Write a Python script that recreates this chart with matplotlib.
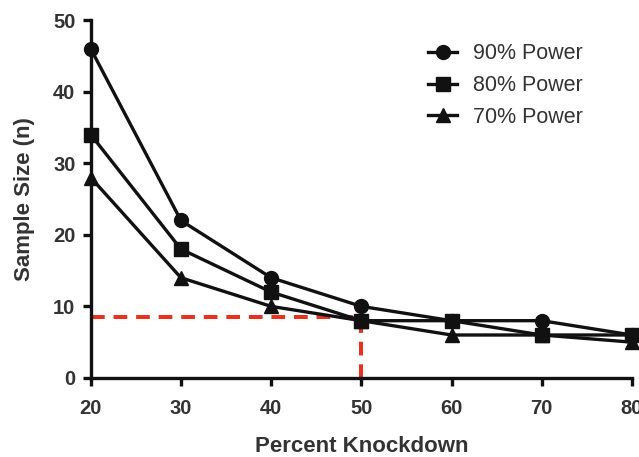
import matplotlib.pyplot as plt

knockdown = [20, 30, 40, 50, 60, 70, 80]
power_90 = [46, 22, 14, 10, 8, 8, 6]
power_80 = [34, 18, 12, 8, 8, 6, 6]
power_70 = [28, 14, 10, 8, 6, 6, 5]
cutoff_x = 50
cutoff_y = 8.5

plt.rcParams['font.family'] = ['Liberation Sans', 'DejaVu Sans']

fig = plt.figure(figsize=(6.39, 4.57), dpi=100)
ax = fig.add_axes([0.142, 0.173, 0.847, 0.783])

# red dashed guide lines
ax.plot([20, cutoff_x], [cutoff_y, cutoff_y], color='#e8311f', lw=2.9, ls=(0, (3.4, 2.2)), zorder=1)
ax.plot([cutoff_x, cutoff_x], [0, cutoff_y], color='#e8311f', lw=2.9, ls=(0, (3.4, 2.2)), zorder=1)

ax.plot(knockdown, power_90, color='#111111', lw=2.4, marker='o', ms=10, label='90% Power', clip_on=False, zorder=3)
ax.plot(knockdown, power_80, color='#111111', lw=2.4, marker='s', ms=10, label='80% Power', clip_on=False, zorder=3)
ax.plot(knockdown, power_70, color='#111111', lw=2.4, marker='^', ms=10, label='70% Power', clip_on=False, zorder=3)

ax.set_xlim(20, 80)
ax.set_ylim(0, 50)
ax.set_xticks(knockdown)
ax.set_yticks([0, 10, 20, 30, 40, 50])

for side in ['top', 'right']:
    ax.spines[side].set_visible(False)
for side in ['left', 'bottom']:
    ax.spines[side].set_linewidth(2.4)
    ax.spines[side].set_color('#111111')
ax.tick_params(width=2.4, length=6, color='#111111', labelsize=14.5)
ax.tick_params(axis='x', pad=9)
ax.tick_params(axis='y', pad=5)
for lbl in ax.get_xticklabels() + ax.get_yticklabels():
    lbl.set_fontweight('bold')
    lbl.set_color('#333333')

ax.set_xlabel('Percent Knockdown', fontsize=16, fontweight='bold', color='#333333', labelpad=13)
ax.set_ylabel('Sample Size (n)', fontsize=16, fontweight='bold', color='#333333', labelpad=13)

leg = fig.legend(loc='upper left', bbox_to_anchor=(0.670, 0.905), frameon=False, fontsize=15.5,
                 handlelength=1.35, labelspacing=0.5, handletextpad=0.75,
                 borderpad=0, borderaxespad=0)
for t in leg.get_texts():
    t.set_color('#333333')

fig.savefig('out.png', dpi=100)
